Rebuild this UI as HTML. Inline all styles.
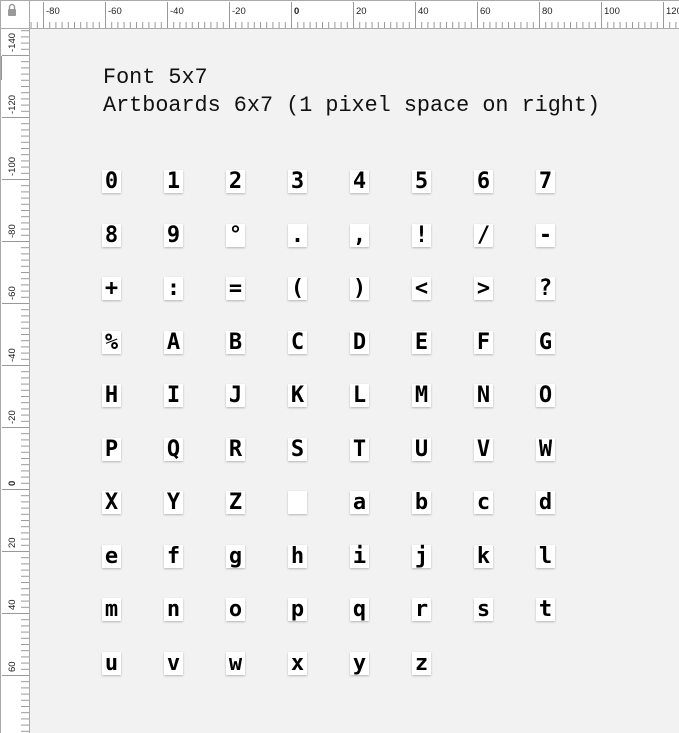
<!DOCTYPE html>
<html><head><meta charset="utf-8"><style>
body{margin:0;width:679px;height:733px;overflow:hidden;background:#f2f2f2;position:relative;font-family:"Liberation Sans",sans-serif}
.ab{position:absolute;width:19px;height:23px;background:#fff;box-shadow:0 1px 2px rgba(0,0,0,.25);font:bold 22px/23px "DejaVu Sans Mono","Liberation Mono",monospace;color:#000;text-align:center}
.t{position:absolute;left:103px;font:21.8px "Liberation Mono",monospace;color:#111;white-space:pre}
</style></head><body>
<svg width="679" height="733" style="position:absolute;left:0;top:0">
<defs>
<pattern id="th" x="43" y="0" width="6.2" height="28" patternUnits="userSpaceOnUse"><line x1="0.5" y1="22" x2="0.5" y2="28" stroke="#999"/></pattern>
<pattern id="tv" x="0" y="489" width="29" height="6.2" patternUnits="userSpaceOnUse"><line x1="21" y1="0.5" x2="29" y2="0.5" stroke="#999"/></pattern>
</defs>
<rect x="0" y="0" width="679" height="28" fill="#fff"/>
<rect x="0" y="0" width="29" height="733" fill="#fff"/>
<rect x="29" y="0" width="650" height="28" fill="url(#th)"/>
<rect x="0" y="28" width="29" height="705" fill="url(#tv)"/>
<rect x="0" y="56" width="2" height="24" fill="#6a9be8"/>
<line x1="0" y1="28.5" x2="679" y2="28.5" stroke="#aaa"/>
<line x1="29.5" y1="0" x2="29.5" y2="733" stroke="#aaa"/>
<line x1="0" y1="0.5" x2="679" y2="0.5" stroke="#aaa"/>
<line x1="0.5" y1="0" x2="0.5" y2="733" stroke="#aaa"/>
<g stroke="#999">
<line x1="43.5" y1="2" x2="43.5" y2="28"/><line x1="105.5" y1="2" x2="105.5" y2="28"/><line x1="167.5" y1="2" x2="167.5" y2="28"/><line x1="229.5" y1="2" x2="229.5" y2="28"/><line x1="291.5" y1="2" x2="291.5" y2="28"/><line x1="353.5" y1="2" x2="353.5" y2="28"/><line x1="415.5" y1="2" x2="415.5" y2="28"/><line x1="477.5" y1="2" x2="477.5" y2="28"/><line x1="539.5" y1="2" x2="539.5" y2="28"/><line x1="601.5" y1="2" x2="601.5" y2="28"/><line x1="663.5" y1="2" x2="663.5" y2="28"/>
<line x1="2" y1="55.5" x2="29" y2="55.5"/><line x1="2" y1="117.5" x2="29" y2="117.5"/><line x1="2" y1="179.5" x2="29" y2="179.5"/><line x1="2" y1="241.5" x2="29" y2="241.5"/><line x1="2" y1="303.5" x2="29" y2="303.5"/><line x1="2" y1="365.5" x2="29" y2="365.5"/><line x1="2" y1="427.5" x2="29" y2="427.5"/><line x1="2" y1="489.5" x2="29" y2="489.5"/><line x1="2" y1="551.5" x2="29" y2="551.5"/><line x1="2" y1="613.5" x2="29" y2="613.5"/><line x1="2" y1="675.5" x2="29" y2="675.5"/>
</g>
<g font-family="Liberation Sans" font-size="9.5" fill="#222">
<text x="46" y="14">-80</text><text x="108" y="14">-60</text><text x="170" y="14">-40</text><text x="232" y="14">-20</text><text x="294" y="14" font-weight="bold">0</text><text x="356" y="14">20</text><text x="418" y="14">40</text><text x="480" y="14">60</text><text x="542" y="14">80</text><text x="604" y="14">100</text><text x="666" y="14">120</text>
</g>
<g font-family="Liberation Sans" font-size="9.5" fill="#222">
<text transform="translate(15,52) rotate(-90)">-140</text>
<text transform="translate(15,114) rotate(-90)">-120</text>
<text transform="translate(15,176) rotate(-90)">-100</text>
<text transform="translate(15,238) rotate(-90)">-80</text>
<text transform="translate(15,300) rotate(-90)">-60</text>
<text transform="translate(15,362) rotate(-90)">-40</text>
<text transform="translate(15,424) rotate(-90)">-20</text>
<text transform="translate(15,486) rotate(-90)" font-weight="bold">0</text>
<text transform="translate(15,548) rotate(-90)">20</text>
<text transform="translate(15,610) rotate(-90)">40</text>
<text transform="translate(15,672) rotate(-90)">60</text>
</g>
<rect x="8" y="9" width="8" height="7" rx="1" fill="#999"/>
<path d="M9.5 9V7a2.5 2.5 0 0 1 5 0v2" fill="none" stroke="#999" stroke-width="1.4"/>
</svg>
<div class="t" style="top:65px">Font 5x7</div>
<div class="t" style="top:93px">Artboards 6x7 (1 pixel space on right)</div>
<div class="ab" style="left:102px;top:170px">0</div><div class="ab" style="left:164px;top:170px">1</div><div class="ab" style="left:226px;top:170px">2</div><div class="ab" style="left:288px;top:170px">3</div><div class="ab" style="left:350px;top:170px">4</div><div class="ab" style="left:412px;top:170px">5</div><div class="ab" style="left:474px;top:170px">6</div><div class="ab" style="left:536px;top:170px">7</div>
<div class="ab" style="left:102px;top:224px">8</div><div class="ab" style="left:164px;top:224px">9</div><div class="ab" style="left:226px;top:224px">°</div><div class="ab" style="left:288px;top:224px">.</div><div class="ab" style="left:350px;top:224px">,</div><div class="ab" style="left:412px;top:224px">!</div><div class="ab" style="left:474px;top:224px">/</div><div class="ab" style="left:536px;top:224px">-</div>
<div class="ab" style="left:102px;top:277px">+</div><div class="ab" style="left:164px;top:277px">:</div><div class="ab" style="left:226px;top:277px">=</div><div class="ab" style="left:288px;top:277px">(</div><div class="ab" style="left:350px;top:277px">)</div><div class="ab" style="left:412px;top:277px">&lt;</div><div class="ab" style="left:474px;top:277px">&gt;</div><div class="ab" style="left:536px;top:277px">?</div>
<div class="ab" style="left:102px;top:331px">%</div><div class="ab" style="left:164px;top:331px">A</div><div class="ab" style="left:226px;top:331px">B</div><div class="ab" style="left:288px;top:331px">C</div><div class="ab" style="left:350px;top:331px">D</div><div class="ab" style="left:412px;top:331px">E</div><div class="ab" style="left:474px;top:331px">F</div><div class="ab" style="left:536px;top:331px">G</div>
<div class="ab" style="left:102px;top:384px">H</div><div class="ab" style="left:164px;top:384px">I</div><div class="ab" style="left:226px;top:384px">J</div><div class="ab" style="left:288px;top:384px">K</div><div class="ab" style="left:350px;top:384px">L</div><div class="ab" style="left:412px;top:384px">M</div><div class="ab" style="left:474px;top:384px">N</div><div class="ab" style="left:536px;top:384px">O</div>
<div class="ab" style="left:102px;top:438px">P</div><div class="ab" style="left:164px;top:438px">Q</div><div class="ab" style="left:226px;top:438px">R</div><div class="ab" style="left:288px;top:438px">S</div><div class="ab" style="left:350px;top:438px">T</div><div class="ab" style="left:412px;top:438px">U</div><div class="ab" style="left:474px;top:438px">V</div><div class="ab" style="left:536px;top:438px">W</div>
<div class="ab" style="left:102px;top:491px">X</div><div class="ab" style="left:164px;top:491px">Y</div><div class="ab" style="left:226px;top:491px">Z</div><div class="ab" style="left:288px;top:491px"></div><div class="ab" style="left:350px;top:491px">a</div><div class="ab" style="left:412px;top:491px">b</div><div class="ab" style="left:474px;top:491px">c</div><div class="ab" style="left:536px;top:491px">d</div>
<div class="ab" style="left:102px;top:545px">e</div><div class="ab" style="left:164px;top:545px">f</div><div class="ab" style="left:226px;top:545px">g</div><div class="ab" style="left:288px;top:545px">h</div><div class="ab" style="left:350px;top:545px">i</div><div class="ab" style="left:412px;top:545px">j</div><div class="ab" style="left:474px;top:545px">k</div><div class="ab" style="left:536px;top:545px">l</div>
<div class="ab" style="left:102px;top:598px">m</div><div class="ab" style="left:164px;top:598px">n</div><div class="ab" style="left:226px;top:598px">o</div><div class="ab" style="left:288px;top:598px">p</div><div class="ab" style="left:350px;top:598px">q</div><div class="ab" style="left:412px;top:598px">r</div><div class="ab" style="left:474px;top:598px">s</div><div class="ab" style="left:536px;top:598px">t</div>
<div class="ab" style="left:102px;top:652px">u</div><div class="ab" style="left:164px;top:652px">v</div><div class="ab" style="left:226px;top:652px">w</div><div class="ab" style="left:288px;top:652px">x</div><div class="ab" style="left:350px;top:652px">y</div><div class="ab" style="left:412px;top:652px">z</div>
</body></html>
